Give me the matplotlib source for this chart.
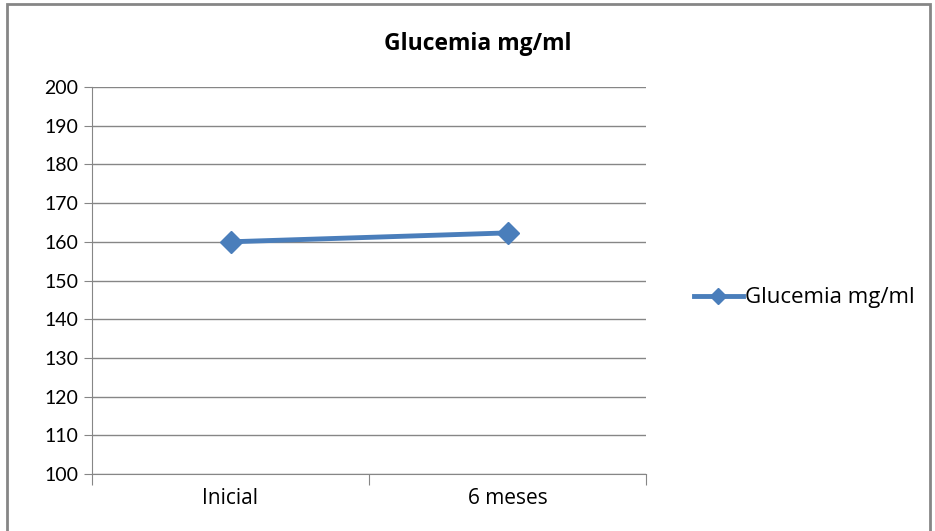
import matplotlib.pyplot as plt
from matplotlib.patches import Rectangle

categorias = ['Inicial', '6 meses']
glucemia = [160, 162.3]
serie = 'Glucemia mg/ml'

plt.rcParams['font.family'] = ['Lato', 'DejaVu Sans']
texto = ['Open Sans', 'DejaVu Sans']

fig = plt.figure(figsize=(9.35, 5.31), dpi=100)
ax = fig.add_axes([92 / 935, 57 / 531, 554 / 935, 387 / 531])

x = [i + 0.5 for i in range(len(categorias))]
ax.plot(x, glucemia, color='#4A7EBB', linewidth=3.5, marker='D', markersize=11,
        label=serie, zorder=3)

ax.set_xlim(0, len(categorias))
ax.set_ylim(100, 200)
ax.set_yticks(range(100, 201, 10))
ax.set_xticks(range(len(categorias) + 1))
ax.set_xticks(x, minor=True)
ax.set_xticklabels([])
ax.set_xticklabels(categorias, minor=True, family=texto)
ax.tick_params(axis='x', which='major', length=8, color='#868686')
ax.tick_params(axis='x', which='minor', length=0, labelsize=15, pad=10)
ax.tick_params(axis='y', length=6, color='#868686', labelsize=14, pad=4)

ax.grid(axis='y', color='#868686', linewidth=1)
ax.set_axisbelow(True)
for s in ['top', 'right']:
    ax.spines[s].set_visible(False)
for s in ['left', 'bottom']:
    ax.spines[s].set_color('#868686')

fig.text(478 / 935, 1 - 44 / 531, serie, ha='center', va='center',
         fontsize=16.5, fontweight='bold', family=texto)

ax.legend(loc='center left', bbox_to_anchor=(1.05, 1 - (298 - 87) / 387),
          frameon=False, handlelength=2.2, handletextpad=0.1,
          markerscale=0.7, prop={'family': texto, 'size': 16})

fig.patches.append(Rectangle((7 / 935, -0.01), 923 / 935, 1.01 - 4 / 531,
                             transform=fig.transFigure, fill=False,
                             edgecolor='#868686', linewidth=2))

fig.savefig('out.png')
plt.close()
